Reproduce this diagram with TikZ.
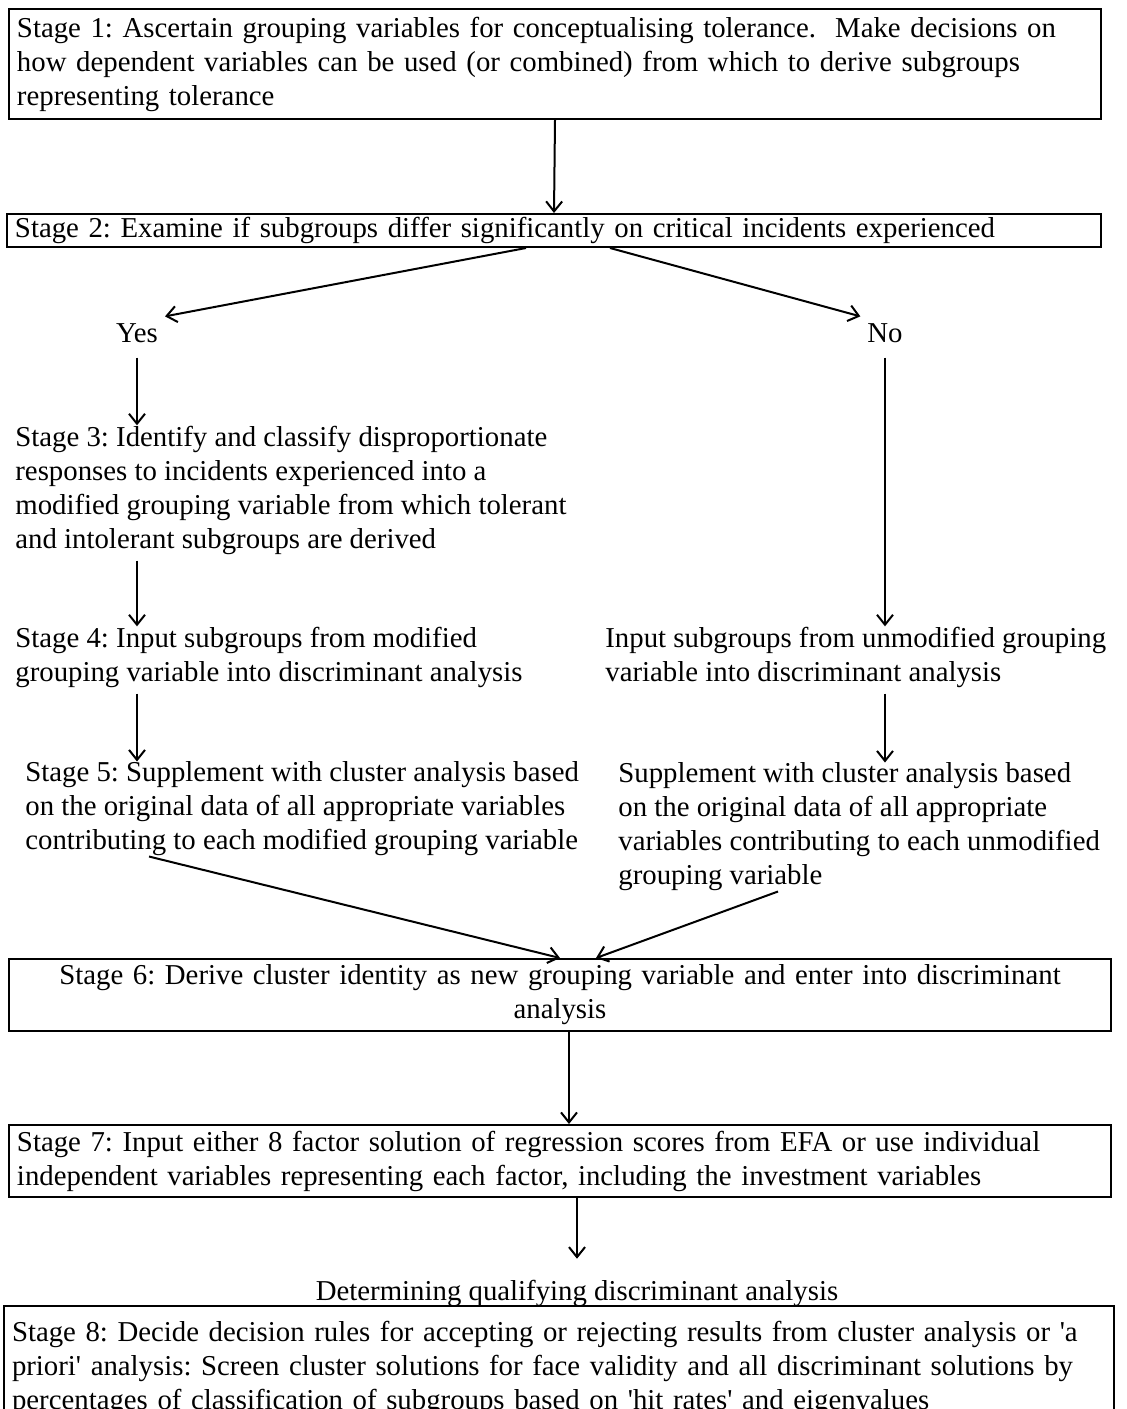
\documentclass[tikz,border=0pt]{standalone}
\usepackage{fontspec}
\setmainfont{Liberation Serif}
\usetikzlibrary{arrows.meta,positioning}

\begin{document}
\frenchspacing
\begin{tikzpicture}
	[x=0.5pt,y=-0.5pt,every node/.style={font=\fontsize{14.4}{17}\selectfont},
	stagebox/.style={draw, line width=1pt, rectangle, anchor=north west, align=left, inner xsep=4pt, inner ysep=1pt},
	txt/.style={anchor=west, align=left, inner sep=0pt},
	arr/.style={-{Straight Barb[length=5pt,width=8pt]}, line width=1pt}]
	\clip (0,0) rectangle (1127,1409);
	% boxes
	\node[stagebox, text width=538pt, minimum height=55pt] (box1) at (8,8) {Stage 1: Ascertain grouping variables for conceptualising tolerance.\ \ Make decisions on\\ how dependent variables can be used (or combined) from which to derive subgroups\\ representing tolerance};
	\node[stagebox, text width=539pt, minimum height=16.5pt] (box2) at (6,213) {Stage 2: Examine if subgroups differ significantly on critical incidents experienced};
	\node[stagebox, text width=543pt, minimum height=36pt, align=center] (box6) at (8,958) {Stage 6: Derive cluster identity as new grouping variable and enter into discriminant\\ analysis};
	\node[stagebox, text width=543pt, minimum height=36pt] (box7) at (8,1124) {Stage 7: Input either 8 factor solution of regression scores from EFA or use individual\\ independent variables representing each factor, including the investment variables};
	\node[stagebox, text width=547pt, minimum height=62pt] (box8) at (3,1305) {Stage 8: Decide decision rules for accepting or rejecting results from cluster analysis or \textquotesingle a\\ priori\textquotesingle\ analysis: Screen cluster solutions for face validity and all discriminant solutions by\\ percentages of classification of subgroups based on \textquotesingle hit rates\textquotesingle\ and eigenvalues};
	% free text
	\node (yes) at (137,333) {Yes};
	\node (no) at (885,333) {No};
	\node[txt] (s3) at (15,490) {Stage 3: Identify and classify disproportionate\\ responses to incidents experienced into a\\ modified grouping variable from which tolerant\\ and intolerant subgroups are derived};
	\node[txt] (s4) at (15,657) {Stage 4: Input subgroups from modified\\ grouping variable into discriminant analysis};
	\node[txt] (s5) at (25,809) {Stage 5: Supplement with cluster analysis based\\ on the original data of all appropriate variables\\ contributing to each modified grouping variable};
	\node[txt] (r4) at (605,657) {Input subgroups from unmodified grouping\\ variable into discriminant analysis};
	\node[txt] (r5) at (618,827) {Supplement with cluster analysis based\\ on the original data of all appropriate\\ variables contributing to each unmodified\\ grouping variable};
	\node (det) at (577,1293) {Determining qualifying discriminant analysis};

	\draw[arr] (box1.south) -- (box2.north);
	\draw[arr] ([xshift=-14pt]box2.south) -- (yes.north east);
	\draw[arr] ([xshift=28pt]box2.south) -- (no.north west);
	\foreach \from/\to in {yes/s3,no/r4}
	\draw[arr, shorten <=4pt] (\from.south) -- (\from.south |- \to.north);
	\foreach \from/\to/\via in {s3/s4/yes,s4/s5/yes,r4/r5/no}
	\draw[arr, shorten <=3pt] (\from.south -| \via) -- (\to.north -| \via);
	\draw[arr] ([xshift=62pt]s5.south west) -- (box6.north);
	\draw[arr] ([xshift=80pt]r5.south west) -- ([xshift=18pt]box6.north);
	\draw[arr] ([xshift=4.5pt]box6.south) -- ([xshift=4.5pt]box6.south |- box7.north);
	\draw[arr, shorten >=7pt] (box7.south -| det.north) -- (det.north);
\end{tikzpicture}
\end{document}
